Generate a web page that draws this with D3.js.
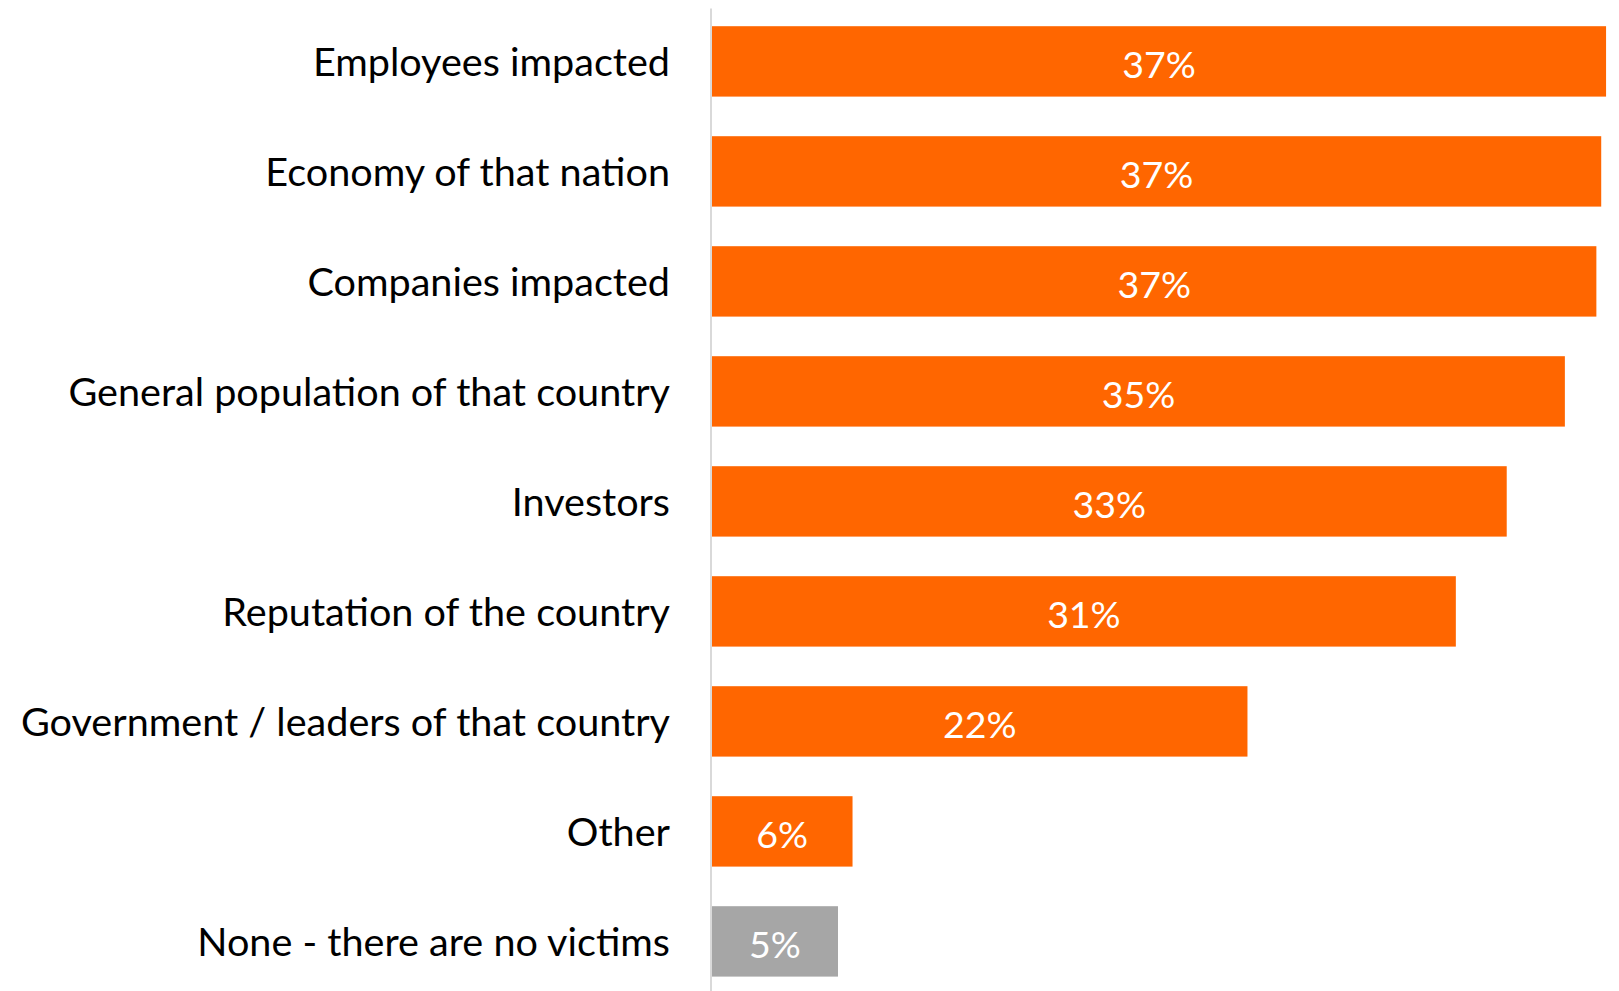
<!DOCTYPE html>
<html>
<head>
<meta charset="utf-8">
<script src="https://cdn.jsdelivr.net/npm/d3@7"></script>
<style>
  html, body { margin: 0; padding: 0; background: #ffffff; }
  svg { display: block; }
</style>
</head>
<body>
<svg id="chart" width="1619" height="991"></svg>
<script>
// Who are the victims — share of respondents (%)
const categories = [
  "Employees impacted",
  "Economy of that nation",
  "Companies impacted",
  "General population of that country",
  "Investors",
  "Reputation of the country",
  "Government / leaders of that country",
  "Other",
  "None - there are no victims"
];
const values = [36.9, 36.7, 36.5, 35.2, 32.8, 30.7, 22.1, 5.8, 5.2];
const barColors = ["#ff6600", "#ff6600", "#ff6600", "#ff6600", "#ff6600", "#ff6600", "#ff6600", "#ff6600", "#a6a6a6"];

const data = categories.map((c, i) => ({ category: c, value: values[i], color: barColors[i] }));

const svg = d3.select("#chart");
const fontFamily = "Lato, 'Open Sans', sans-serif";

const x = d3.scaleLinear().domain([0, 37.5]).range([712, 1620.6]);
const y = d3.scaleBand()
  .domain(categories)
  .range([6.4, 996.4])
  .paddingInner(0.36)
  .paddingOuter(0.18);

const fmt = v => d3.format(".0f")(v) + "%";

// bars
svg.append("g")
  .selectAll("rect")
  .data(data)
  .join("rect")
  .attr("x", x(0))
  .attr("y", d => y(d.category))
  .attr("width", d => x(d.value) - x(0))
  .attr("height", y.bandwidth())
  .attr("fill", d => d.color);

// value labels inside bars
svg.append("g")
  .selectAll("text")
  .data(data)
  .join("text")
  .attr("x", d => (x(0) + x(d.value)) / 2)
  .attr("y", d => y(d.category) + y.bandwidth() / 2 + 2)
  .attr("text-anchor", "middle")
  .attr("dominant-baseline", "central")
  .attr("fill", "#ffffff")
  .style("font-family", fontFamily)
  .style("font-size", "37.5px")
  .text(d => fmt(d.value));

// category axis
const axis = d3.axisLeft(y).tickSize(0).tickPadding(41);
const gAxis = svg.append("g")
  .attr("transform", `translate(${x(0) - 1},0)`)
  .call(axis);
gAxis.select(".domain")
  .attr("d", `M0,8.5V${991}`)
  .attr("stroke", "#d9d9d9")
  .attr("stroke-width", 2);
gAxis.selectAll(".tick text")
  .attr("fill", "#000000")
  .attr("dy", "0.36em")
  .style("font-family", fontFamily)
  .style("font-size", "39.6px");
</script>
</body>
</html>
